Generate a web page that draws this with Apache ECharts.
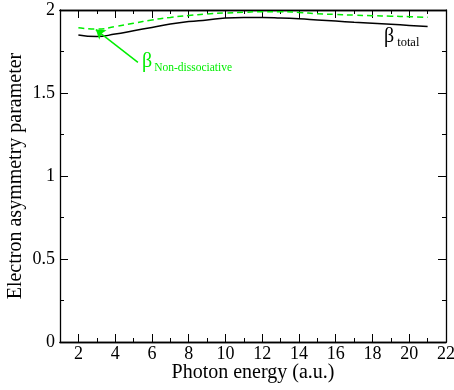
<!DOCTYPE html>
<html><head><meta charset="utf-8">
<script src="https://cdn.jsdelivr.net/npm/echarts@6/dist/echarts.min.js"></script>
<style>html,body{margin:0;padding:0;background:#fff}#c{width:454px;height:390px}</style>
</head><body><div id="c"></div>
<script>
const energy = [2,3,4,5,6,7,8,9,10,11,12,13,14,15,16,17,18,19,20,21];
const betaTotal = [1.85,1.84,1.855,1.875,1.895,1.915,1.93,1.94,1.952,1.955,1.955,1.952,1.947,1.94,1.933,1.926,1.92,1.914,1.907,1.90];
const betaNonDiss = [1.893,1.885,1.9,1.92,1.94,1.955,1.967,1.976,1.982,1.986,1.99,1.99,1.985,1.978,1.973,1.969,1.966,1.963,1.96,1.956];
const xMajor = [2,4,6,8,10,12,14,16,18,20,22];
const xMinor = [1,3,5,7,9,11,13,15,17,19,21];
const arrowFrom = [5.24,1.685];
const arrowTo = [2.95,1.882];

const F = 'Liberation Serif';
const chart = echarts.init(document.getElementById('c'));
const lineAx = {lineStyle:{color:'#000',width:1.3}};
const baseX = {type:'value',min:1,max:22,splitLine:{show:false},axisLine:lineAx};
chart.setOption({
  animation:false,
  grid:{left:60,right:8,top:10,bottom:48,outerBoundsMode:'none',containLabel:false},
  xAxis:[
    Object.assign({},baseX,{position:'bottom',name:'Photon energy (a.u.)',nameLocation:'middle',nameGap:21,nameMoveOverlap:false,
      nameTextStyle:{fontFamily:F,fontSize:20,color:'#000'},
      axisTick:{inside:true,length:8,customValues:xMajor,lineStyle:{color:'#000'}},
      axisLabel:{customValues:xMajor,fontFamily:F,fontSize:18,color:'#000',margin:3}}),
    Object.assign({},baseX,{position:'bottom',
      axisTick:{inside:true,length:4,customValues:xMinor,lineStyle:{color:'#000'}},
      axisLabel:{show:false}}),
    Object.assign({},baseX,{position:'top',
      axisTick:{inside:true,length:8,customValues:xMajor,lineStyle:{color:'#000'}},
      axisLabel:{show:false}}),
    Object.assign({},baseX,{position:'top',
      axisTick:{inside:true,length:4,customValues:xMinor,lineStyle:{color:'#000'}},
      axisLabel:{show:false}})
  ],
  yAxis:[
    {type:'value',min:0,max:2,interval:0.5,position:'left',splitLine:{show:false},axisLine:lineAx,
     name:'Electron asymmetry parameter',nameLocation:'middle',nameGap:34,nameMoveOverlap:false,
     nameTextStyle:{fontFamily:F,fontSize:20,color:'#000'},
     axisTick:{inside:true,length:8,lineStyle:{color:'#000'}},
     minorTick:{show:true,splitNumber:2,length:4,lineStyle:{color:'#000'}},
     axisLabel:{fontFamily:F,fontSize:18,color:'#000',margin:5}},
    {type:'value',min:0,max:2,interval:0.5,position:'right',splitLine:{show:false},axisLine:lineAx,
     axisTick:{inside:true,length:8,lineStyle:{color:'#000'}},
     minorTick:{show:true,splitNumber:2,length:4,lineStyle:{color:'#000'}},
     axisLabel:{show:false}}
  ],
  series:[
    {type:'line',smooth:true,symbol:'none',data:energy.map((x,i)=>[x,betaTotal[i]]),
     lineStyle:{color:'#000',width:1.5},z:3},
    {type:'line',smooth:true,symbol:'none',data:energy.map((x,i)=>[x,betaNonDiss[i]]),
     lineStyle:{color:'#00ee00',width:1.5,type:[6,4]},z:4,
     markLine:{silent:true,symbol:['none','arrow'],symbolSize:9,label:{show:false},
       lineStyle:{color:'#00ee00',width:1.5,type:'solid'},
       data:[[{coord:arrowFrom},{coord:arrowTo}]]}}
  ],
  graphic:[
    {type:'text',left:142,top:52,style:{text:'{b|β}{s|Non-dissociative}',rich:{
      b:{fontFamily:F,fontSize:20,fill:'#00ee00'},
      s:{fontFamily:F,fontSize:11.5,fill:'#00ee00',padding:[12,0,0,2]}}}},
    {type:'text',left:384,top:27,style:{text:'{b|β}{s|total}',rich:{
      b:{fontFamily:F,fontSize:20,fill:'#000'},
      s:{fontFamily:F,fontSize:12.5,fill:'#000',padding:[12,0,0,3]}}}}
  ]
});
</script></body></html>
